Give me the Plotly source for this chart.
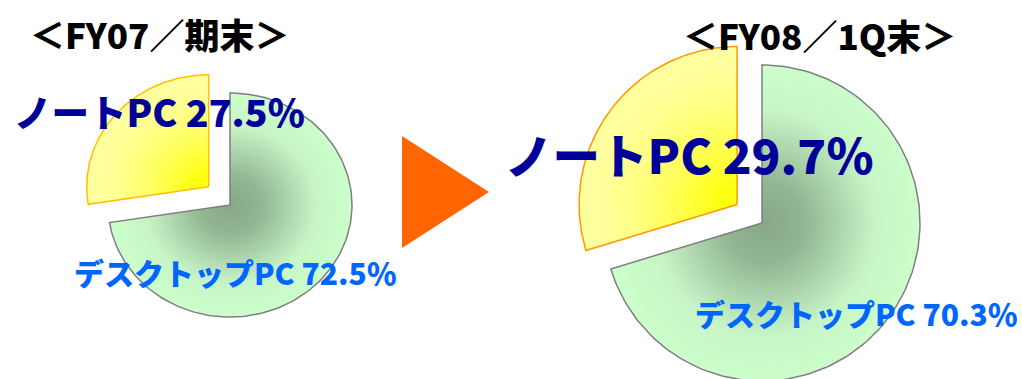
import numpy as np
import plotly.graph_objects as go

# ---- data -------------------------------------------------------------
period_titles = ["＜FY07／期末＞", "＜FY08／1Q末＞"]
segment_names = ["ノートPC", "デスクトップPC"]
notebook_share = [27.5, 29.7]   # %
desktop_share = [72.5, 70.3]    # %

# ---- layout of the two pies (pixel space) ------------------------------
W, H = 1022, 379
pie_center = [(230, 205), (762, 223)]
pie_radius = [(122, 112), (158, 158)]      # (rx, ry)
pull_px = [28, 31]                         # notebook slice offset
title_pos = [(159, 33), (819, 34)]
note_label_pos = [(159, 110), (689, 153)]
desk_label_pos = [(235, 272), (856, 313)]
note_font = [37.5, 47.5]
desk_font = [30, 30]
title_font = 35

FONT = "Noto Sans CJK JP"
NAVY = "#000099"
BLUE = "#0066FF"
note_outline = ["#FFC000", "#FF9900"]


def wedge(cx, cy, rx, ry, a0, a1, scale=1.0, n=160):
    """Closed polygon of a pie slice; angles clockwise from 12 o'clock."""
    t = np.radians(np.linspace(a0, a1, n))
    xs = np.concatenate([[cx], cx + scale * rx * np.sin(t), [cx]])
    ys = np.concatenate([[cy], cy - scale * ry * np.cos(t), [cy]])
    return xs, ys


def mix(c0, c1, f):
    return "rgb({},{},{})".format(*[round(a + (b - a) * f) for a, b in zip(c0, c1)])


fig = go.Figure()

for i in range(2):
    cx, cy = pie_center[i]
    rx, ry = pie_radius[i]
    desk_end = 360 * desktop_share[i] / 100.0
    note_end = desk_end + 360 * notebook_share[i] / 100.0

    # desktop slice with a radial shade
    xs, ys = wedge(cx, cy, rx, ry, 0, desk_end)
    fig.add_trace(go.Scatter(
        x=xs, y=ys, mode="lines", fill="toself",
        line=dict(color="#7F7F7F", width=1.5),
        fillgradient=dict(type="radial", colorscale=[
            [0.0, "#86a886"], [0.25, "#92b592"], [0.7, "#c6f4c6"], [1.0, "#ccffcc"]]),
        hoverinfo="skip", showlegend=False))

    # notebook slice, pulled out along its mid angle
    mid = np.radians((desk_end + note_end) / 2)
    ncx = cx + pull_px[i] * np.sin(mid)
    ncy = cy - pull_px[i] * np.cos(mid)
    pale, bright = (255, 255, 160), (255, 255, 20)
    steps = 14
    for k in range(steps):
        s = 1.0 - k * (0.9 / steps)
        f = (k / (steps - 1)) ** 1.6
        xs, ys = wedge(ncx, ncy, rx, ry, desk_end, note_end, scale=s)
        fig.add_trace(go.Scatter(
            x=xs, y=ys, mode="lines", fill="toself",
            fillcolor=mix(pale, bright, f), line=dict(width=0),
            hoverinfo="skip", showlegend=False))
    xs, ys = wedge(ncx, ncy, rx, ry, desk_end, note_end)
    fig.add_trace(go.Scatter(
        x=xs, y=ys, mode="lines", line=dict(color=note_outline[i], width=1.5),
        hoverinfo="skip", showlegend=False))

    # titles and slice labels
    fig.add_annotation(x=title_pos[i][0], y=title_pos[i][1], text=period_titles[i],
                       showarrow=False, font=dict(family=FONT, size=title_font, color="black", weight=900))
    fig.add_annotation(x=note_label_pos[i][0], y=note_label_pos[i][1],
                       text=f"{segment_names[0]} {notebook_share[i]:.1f}％",
                       showarrow=False, font=dict(family=FONT, size=note_font[i], color=NAVY, weight=900))
    fig.add_annotation(x=desk_label_pos[i][0], y=desk_label_pos[i][1],
                       text=f"{segment_names[1]} {desktop_share[i]:.1f}％",
                       showarrow=False, font=dict(family=FONT, size=desk_font[i], color=BLUE, weight=900))

# orange arrow between the two periods
fig.add_shape(type="path", path="M 402,136 L 489,192 L 402,248 Z",
              fillcolor="#FF6600", line=dict(width=0), layer="above")

fig.update_xaxes(range=[0, W], visible=False, fixedrange=True)
fig.update_yaxes(range=[H, 0], visible=False, fixedrange=True)
fig.update_layout(width=W, height=H, margin=dict(l=0, r=0, t=0, b=0),
                  plot_bgcolor="white", paper_bgcolor="white", showlegend=False)

fig.write_html("out.html", config={"displayModeBar": False})
